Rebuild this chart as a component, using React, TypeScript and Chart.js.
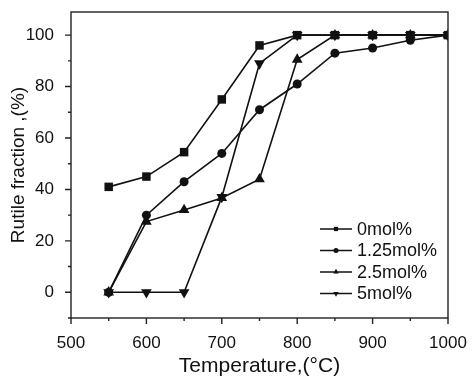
import { useEffect, useRef } from "react";
import { Chart, registerables } from "chart.js";
import { drawPoint } from "chart.js/helpers";

Chart.register(...registerables);

const temperatures = [550, 600, 650, 700, 750, 800, 850, 900, 950, 1000];
const seriesNames = ["0mol%", "1.25mol%", "2.5mol%", "5mol%"];
const rutile0 = [41, 45, 54.5, 75, 96, 100, 100, 100, 100, 100];
const rutile125 = [0, 30, 43, 54, 71, 81, 93, 95, 98, 100];
const rutile25 = [0, 27.5, 32, 36.7, 44, 90.5, 100, 100, 100, 100];
const rutile5 = [0, 0, 0, 37, 89, 100, 100, 100, 100, 100];
const xTicks = [500, 600, 700, 800, 900, 1000];
const xMinorTicks = [550, 650, 750, 850, 950];
const yTicks = [0, 20, 40, 60, 80, 100];
const yMinorTicks = [-10, 10, 30, 50, 70, 90];

const FONT = "'Liberation Sans', Arial, Helvetica, sans-serif";
const INK = "#111";

const markers = [
  { pointStyle: "rect", rotation: 0, radius: 6, legendRadius: 3.0 },
  { pointStyle: "circle", rotation: 0, radius: 4.5, legendRadius: 2.5 },
  { pointStyle: "triangle", rotation: 0, radius: 6.2, legendRadius: 3.2 },
  { pointStyle: "triangle", rotation: 180, radius: 6.2, legendRadius: 3.2 },
];

const framePlugin = {
  id: "framePlugin",
  afterDraw(chart: any) {
    const { ctx, chartArea } = chart;
    const { left, right, top, bottom } = chartArea;
    const xs = chart.scales.x;
    const ys = chart.scales.y;
    ctx.save();
    ctx.strokeStyle = "#222";
    ctx.lineWidth = 1.4;
    ctx.strokeRect(left, top, right - left, bottom - top);
    ctx.beginPath();
    xTicks.forEach((v) => {
      const px = xs.getPixelForValue(v);
      ctx.moveTo(px, bottom);
      ctx.lineTo(px, bottom + 6);
    });
    xMinorTicks.forEach((v) => {
      const px = xs.getPixelForValue(v);
      ctx.moveTo(px, bottom);
      ctx.lineTo(px, bottom + 3);
    });
    yTicks.forEach((v) => {
      const py = ys.getPixelForValue(v);
      ctx.moveTo(left, py);
      ctx.lineTo(left - 6, py);
    });
    yMinorTicks.forEach((v) => {
      const py = ys.getPixelForValue(v);
      ctx.moveTo(left, py);
      ctx.lineTo(left - 3, py);
    });
    ctx.stroke();

    // legend
    const lx1 = right - 128;
    const lx2 = right - 96;
    const tx = right - 91;
    ctx.font = `18px ${FONT}`;
    ctx.textBaseline = "middle";
    ctx.textAlign = "left";
    seriesNames.forEach((name, i) => {
      const y = top + 217 + i * 21.5;
      ctx.strokeStyle = INK;
      ctx.lineWidth = 1.5;
      ctx.beginPath();
      ctx.moveTo(lx1, y);
      ctx.lineTo(lx2, y);
      ctx.stroke();
      ctx.fillStyle = INK;
      const m = markers[i];
      drawPoint(ctx, { pointStyle: m.pointStyle, rotation: m.rotation, radius: m.legendRadius, borderWidth: 0 } as any, (lx1 + lx2) / 2, y);
      ctx.fillStyle = INK;
      ctx.fillText(name, tx, y + 1);
    });
    ctx.restore();
  },
};

export default function App() {
  const canvasRef = useRef<HTMLCanvasElement | null>(null);

  useEffect(() => {
    const canvas = canvasRef.current;
    if (!canvas) return;
    const allSeries = [rutile0, rutile125, rutile25, rutile5];
    const chart = new Chart(canvas, {
      type: "line",
      data: {
        datasets: allSeries.map((vals, i) => ({
          label: seriesNames[i],
          data: vals.map((v, j) => ({ x: temperatures[j], y: v })),
          borderColor: INK,
          backgroundColor: INK,
          borderWidth: 1.6,
          pointStyle: markers[i].pointStyle as any,
          rotation: markers[i].rotation,
          pointRotation: markers[i].rotation,
          pointRadius: markers[i].radius,
          pointBorderWidth: 0,
          pointBackgroundColor: INK,
          tension: 0,
          fill: false,
        })),
      },
      options: {
        animation: false,
        responsive: true,
        maintainAspectRatio: false,
        layout: { padding: { left: 0, right: 25, top: 12, bottom: 0 } },
        plugins: {
          legend: { display: false },
          tooltip: { enabled: false },
        },
        scales: {
          x: {
            type: "linear",
            min: 500,
            max: 1000,
            afterBuildTicks: (scale: any) => {
              scale.ticks = xTicks.map((v) => ({ value: v }));
            },
            afterFit: (scale: any) => {
              scale.height = 61;
              scale.paddingLeft = 0;
              scale.paddingRight = 0;
            },
            grid: { display: false },
            border: { display: false },
            ticks: {
              color: INK,
              font: { family: FONT, size: 17 },
              padding: 7,
              maxRotation: 0,
              autoSkip: false,
              callback: (v: any) => String(v),
            },
            title: {
              display: true,
              text: "Temperature,(°C)",
              color: INK,
              font: { family: FONT, size: 21 },
              padding: { top: 0, bottom: 0 },
            },
          },
          y: {
            type: "linear",
            min: -10,
            max: 109,
            afterBuildTicks: (scale: any) => {
              scale.ticks = yTicks.map((v) => ({ value: v }));
            },
            afterFit: (scale: any) => {
              scale.width = 71;
              scale.paddingTop = 0;
              scale.paddingBottom = 0;
            },
            grid: { display: false },
            border: { display: false },
            ticks: {
              color: INK,
              font: { family: FONT, size: 17 },
              padding: 9,
              autoSkip: false,
              callback: (v: any) => String(v),
            },
            title: {
              display: true,
              text: "Rutile fraction ,(%)",
              color: INK,
              font: { family: FONT, size: 19 },
              padding: { top: 7, bottom: 0 },
            },
          },
        },
      },
      plugins: [framePlugin],
    });
    return () => chart.destroy();
  }, []);

  return (
    <div style={{ position: "fixed", left: 0, top: 0, width: 473, height: 379, background: "#fff" }}>
      <canvas ref={canvasRef} />
    </div>
  );
}
